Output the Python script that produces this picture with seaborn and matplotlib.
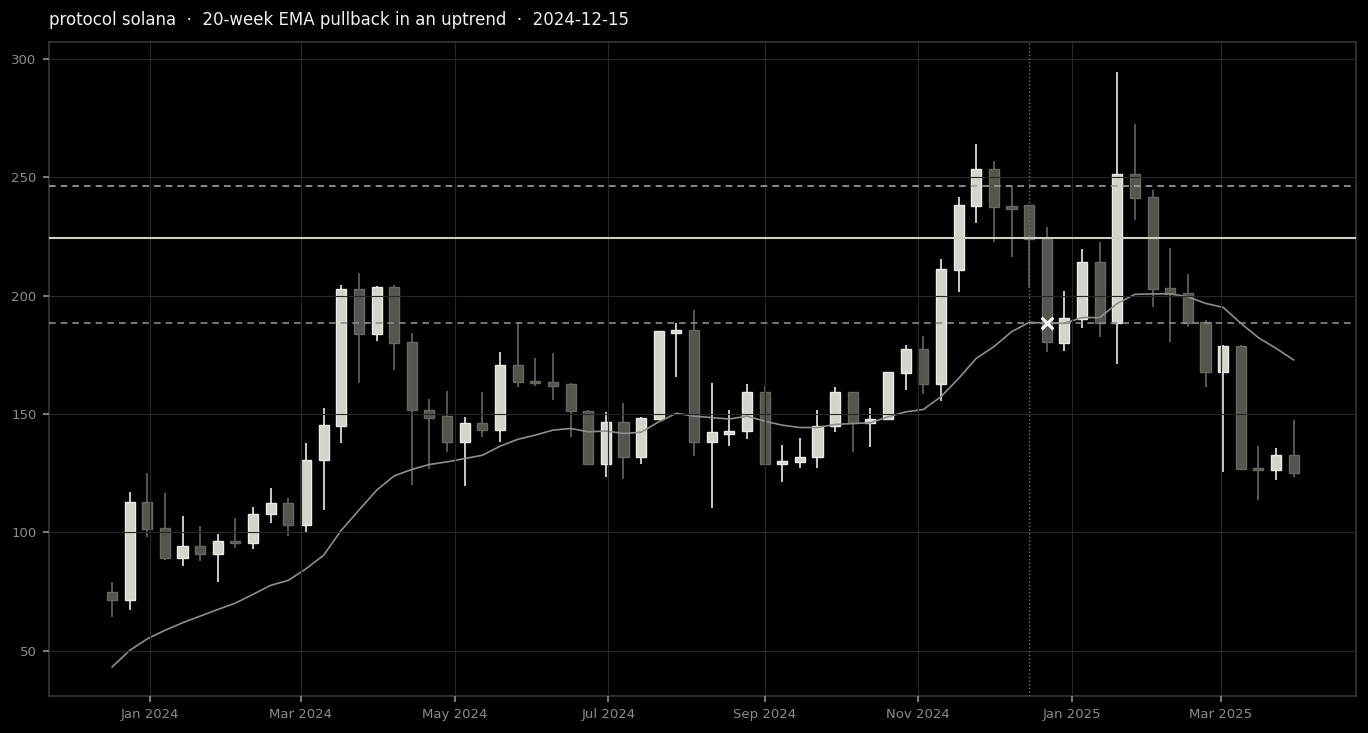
import seaborn as sns
import matplotlib.pyplot as plt
import matplotlib.dates as mdates
import pandas as pd
import numpy as np

# weekly candles, first week starting 2023-12-17
first_week = '2023-12-17'
opens = [74.9, 71.4, 112.9, 101.9, 89.4, 94.5, 91.1, 96.4, 95.6, 107.6,
         112.6, 103.3, 130.4, 145.0, 202.7, 183.6, 203.5, 180.3, 151.9, 149.1,
         138.0, 146.4, 143.4, 170.5, 163.8, 163.4, 162.5, 151.4, 128.7, 146.8,
         131.9, 147.7, 184.3, 185.5, 138.0, 141.6, 142.8, 159.4, 128.8, 129.8,
         131.7, 144.9, 159.1, 146.0, 147.7, 167.2, 177.3, 162.5, 210.8, 237.6,
         253.4, 237.6, 238.2, 224.2, 180.1, 190.0, 214.1, 188.6, 251.3, 241.5,
         203.3, 201.0, 189.0, 167.8, 178.8, 127.1, 126.3, 132.9]
highs = [79.1, 117.1, 125.3, 116.7, 107.0, 102.7, 99.5, 106.3, 110.8, 118.6,
         114.6, 137.6, 152.4, 204.5, 209.7, 204.0, 204.5, 184.4, 156.2, 159.8,
         148.8, 159.1, 176.0, 188.7, 173.7, 175.6, 162.9, 151.6, 150.9, 154.7,
         148.8, 185.2, 188.3, 193.9, 163.2, 151.9, 162.5, 162.0, 137.1, 140.0,
         151.9, 161.5, 159.4, 152.4, 167.8, 179.1, 183.1, 215.3, 241.5, 263.9,
         256.6, 246.4, 238.4, 228.8, 201.9, 219.6, 222.8, 294.2, 272.4, 244.6,
         220.0, 209.0, 189.7, 179.2, 179.0, 136.6, 135.8, 147.4]
lows = [64.3, 67.4, 98.1, 88.2, 85.7, 87.8, 79.1, 93.6, 93.2, 103.8,
        98.5, 100.2, 109.7, 137.6, 163.2, 180.8, 168.6, 120.0, 127.0, 134.0,
        119.5, 140.1, 138.0, 161.2, 161.8, 155.9, 140.1, 128.3, 123.5, 122.4,
        128.7, 147.3, 165.7, 132.2, 110.4, 136.4, 139.3, 128.6, 121.1, 127.4,
        127.4, 142.5, 133.8, 136.1, 147.3, 160.1, 158.4, 155.6, 201.7, 230.6,
        222.8, 216.4, 203.8, 176.0, 176.7, 186.2, 182.4, 170.9, 231.7, 195.3,
        180.5, 186.9, 161.2, 125.6, 126.3, 113.6, 122.1, 123.5]
closes = [71.4, 112.9, 101.6, 89.4, 94.5, 91.1, 96.4, 95.6, 108.0, 112.6,
          103.3, 130.8, 145.3, 202.7, 183.6, 203.5, 179.8, 151.6, 148.5, 138.0,
          146.4, 143.4, 170.5, 163.4, 162.9, 161.8, 151.2, 128.7, 146.8, 131.9,
          148.3, 184.9, 185.5, 138.0, 142.2, 143.0, 159.4, 128.8, 130.2, 131.9,
          145.0, 159.1, 146.0, 148.1, 167.6, 177.3, 162.5, 211.1, 238.2, 253.4,
          237.3, 236.7, 223.8, 180.3, 190.4, 214.1, 188.6, 251.3, 241.1, 202.8,
          200.7, 188.6, 167.8, 178.8, 126.6, 126.3, 132.9, 124.9]
ema20 = [43.2, 50.2, 55.1, 58.7, 61.9, 64.7, 67.5, 70.2, 73.9, 77.7,
         79.8, 84.7, 90.4, 100.9, 109.4, 117.8, 123.9, 126.6, 128.7, 129.8,
         131.2, 132.6, 136.4, 139.3, 141.1, 143.2, 143.9, 142.5, 142.8, 141.8,
         142.3, 146.7, 150.3, 149.1, 148.5, 147.9, 149.1, 147.0, 145.3, 144.3,
         144.3, 145.6, 146.0, 146.3, 148.8, 150.9, 151.9, 157.3, 165.0, 173.5,
         178.4, 184.7, 188.7, 188.3, 188.3, 190.7, 190.7, 196.7, 200.5, 200.7,
         200.7, 199.5, 196.7, 195.0, 188.3, 182.2, 177.7, 172.8]

signal_date = '2024-12-15'
entry_date = '2024-12-22'
entry_price = 188.4
breakout_level = 224.3
upper_band = 246.3

df = pd.DataFrame({'date': pd.date_range(first_week, periods=len(opens), freq='7D'),
                   'open': opens, 'high': highs, 'low': lows, 'close': closes, 'ema': ema20})
df['up'] = df['close'] >= df['open']

UP_FILL, UP_EDGE = '#d4d4cc', '#ececE6'
DN_FILL, DN_EDGE = '#55554f', '#68685f'

sns.set_theme(style='dark', rc={
    'figure.facecolor': 'black', 'axes.facecolor': 'black',
    'axes.edgecolor': '#353535', 'grid.color': '#272727',
    'xtick.color': '#8c8c8c', 'ytick.color': '#8c8c8c',
    'text.color': '#eeeeee', 'axes.labelcolor': '#8c8c8c',
    'xtick.bottom': True, 'ytick.left': True,
})
plt.rcParams['font.family'] = ['DejaVu Sans']

fig = plt.figure(figsize=(13.68, 7.33), dpi=100)
ax = fig.add_axes([0.0358, 0.0505, 0.9554, 0.8922])

# wicks
for up, fill in [(True, UP_FILL), (False, DN_FILL)]:
    d = df[df.up == up]
    ax.vlines(d['date'], d['low'], d['high'], color=UP_EDGE if up else '#66665f',
              lw=1.2, zorder=1)

# bodies
for up, fill, edge in [(True, UP_FILL, UP_EDGE), (False, DN_FILL, DN_EDGE)]:
    d = df[df.up == up]
    bottom = d[['open', 'close']].min(axis=1)
    height = np.maximum((d['close'] - d['open']).abs(), 0.8)
    ax.bar(d['date'], height, bottom=bottom, width=4.0, color=fill,
           edgecolor=edge, linewidth=1.0, zorder=1.5)

sns.lineplot(data=df, x='date', y='ema', ax=ax, color='#8e8e8e', lw=1.2, zorder=2)

ax.axhline(breakout_level, color='#cfcfc8', lw=1.5, zorder=3)
ax.axhline(upper_band, color='#a0a0a0', lw=1.2, ls=(0, (4, 3)), zorder=3)
ax.axhline(entry_price, color='#8a8a8a', lw=1.2, ls=(0, (4, 3)), zorder=3)
ax.axvline(pd.Timestamp(signal_date), color='#6e6e6e', lw=1.0, ls=':', zorder=3)
ax.scatter([pd.Timestamp(entry_date)], [entry_price], marker='x', s=70,
           color='white', linewidths=2.2, zorder=4)

ax.set_axisbelow(False)
ax.grid(True, color='#272727', lw=0.8)
ax.set_xlim(df['date'].iloc[0] - pd.Timedelta(days=25),
            df['date'].iloc[-1] + pd.Timedelta(days=24.7))
ax.set_ylim(31, 307)
ax.set_yticks([50, 100, 150, 200, 250, 300])
ax.xaxis.set_major_locator(mdates.MonthLocator(bymonth=[1, 3, 5, 7, 9, 11]))
ax.xaxis.set_major_formatter(mdates.DateFormatter('%b %Y'))
ax.tick_params(labelsize=9.5, length=4, color='#8c8c8c', pad=5)
ax.set_xlabel('')
ax.set_ylabel('')
for s in ax.spines.values():
    s.set_visible(True)
    s.set_color('#353535')

ax.set_title('protocol solana  ·  20-week EMA pullback in an uptrend  ·  2024-12-15',
             loc='left', fontsize=12, color='#f0f0f0', pad=12)

fig.savefig('out.png', dpi=100, facecolor='black')
